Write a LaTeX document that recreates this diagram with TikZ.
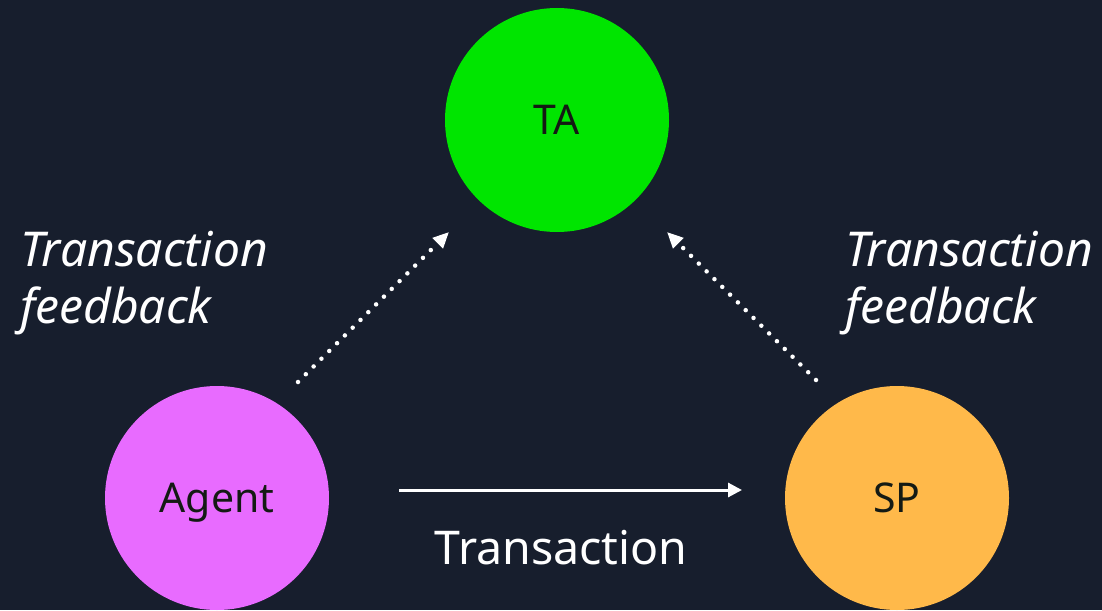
\documentclass[tikz,border=0pt]{standalone}
\usepackage{fontspec}
\setmainfont{Noto Sans}
\usetikzlibrary{arrows.meta}
\definecolor{bgnavy}{HTML}{171E2D}
\definecolor{tagreen}{HTML}{00E500}
\definecolor{agentpink}{HTML}{E86BFF}
\definecolor{sporange}{HTML}{FFB94A}
\definecolor{inktext}{HTML}{141A14}
\tikzset{
  party/.style={circle, minimum size=224pt, inner sep=0pt, text=inktext,
    text height=29pt, text depth=0pt,
    font=\fontsize{41}{44}\selectfont},
  flowlabel/.style={text=white, font=\fontsize{46.5}{57}\selectfont, inner sep=0pt},
  feedback/.style={text=white, font=\itshape\fontsize{48}{57}\selectfont,
    inner sep=0pt, align=left},
  feedarrow/.style={white, line width=4.5pt, line cap=round,
    dash pattern=on 0.01pt off 11pt, -{Triangle[length=16pt,width=14pt]}},
  mainarrow/.style={white, line width=3pt, -{Triangle[length=14pt,width=14pt]}}
}
\begin{document}
\begin{tikzpicture}[x=1pt,y=-1pt]
  \fill[bgnavy] (0,0) rectangle (1102,610);
  \useasboundingbox (0,0) rectangle (1102,610);

  % the three parties
  \node[party, fill=tagreen] (ta) at (557,120) {TA};
  \node[party, fill=agentpink] (agent) at (217,498) {Agent};
  \node[party, fill=sporange] (sp) at (897,498) {SP};

  % arrow end points
  \coordinate (af) at (298,382);
  \coordinate (at) at (449,232);
  \coordinate (sf) at (816,380);
  \coordinate (st) at (667,232);
  \coordinate (tf) at (399,490);
  \coordinate (tt) at (742,490);

  \draw[feedarrow] (af) -- (at);
  \draw[feedarrow] (sf) -- (st);
  \draw[mainarrow] (tf) -- (tt);

  % labels
  \node[flowlabel, anchor=base] (tlabel) at (561,564) {Transaction};
  \node[feedback, anchor=base west] (fl1) at (20,266) {Transaction};
  \node[feedback, anchor=base west] (fl2) at (20,323) {feedback};
  \node[feedback, anchor=base west] (fr1) at (845,266) {Transaction};
  \node[feedback, anchor=base west] (fr2) at (845,323) {feedback};
\end{tikzpicture}
\end{document}
